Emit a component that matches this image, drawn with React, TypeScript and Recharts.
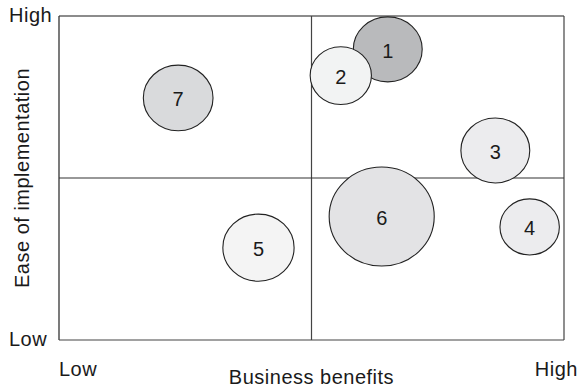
import { ScatterChart, Scatter, XAxis, YAxis, ZAxis, ReferenceLine, Label } from 'recharts';

// bubble ids, positions (0-10 scale on both axes) and relative area
const ids = ['1', '2', '3', '4', '5', '6', '7'];
const benefits = [6.51, 5.58, 8.64, 9.32, 3.95, 6.39, 2.36];
const ease = [8.97, 8.16, 5.85, 3.49, 2.85, 3.81, 7.47];
const sizes = [43, 34, 43, 32, 46, 100, 44];
const fills = ['#b9babc', '#f2f3f3', '#ececee', '#ececee', '#f4f4f4', '#e3e3e5', '#d9dadc'];

const xTicks = [0, 10];
const yTicks = [0, 10];
const tickText: Record<number, string> = { 0: 'Low', 10: 'High' };

const data = ids.map((id, i) => ({ id, x: benefits[i], y: ease[i], z: sizes[i], fill: fills[i] }));

const FONT = '"Liberation Sans", Arial, Helvetica, sans-serif';

const Bubble = (props: any) => {
  const { cx, cy, payload } = props;
  const r = props.size != null ? Math.sqrt(props.size / Math.PI) : props.width / 2;
  return (
    <g>
      <ellipse cx={cx} cy={cy} rx={r * 1.03} ry={r / 1.03} fill={payload.fill} stroke="#222" strokeWidth={1.1} />
      <text x={cx} y={cy + 8.5} textAnchor="middle" fontFamily={FONT} fontSize={20} fill="#1a1a1a">
        {payload.id}
      </text>
    </g>
  );
};

const XTick = (props: any) => {
  const { x, y, payload } = props;
  const v = payload.value;
  return (
    <text
      x={v === 0 ? x : x + 14}
      y={y + 28}
      textAnchor={v === 0 ? 'start' : 'end'}
      fontFamily={FONT}
      fontSize={20}
      letterSpacing={0.5}
      fill="#1a1a1a"
    >
      {tickText[v]}
    </text>
  );
};

const YTick = (props: any) => {
  const { y, payload } = props;
  return (
    <text x={9} y={y + 6} textAnchor="start" fontFamily={FONT} fontSize={20} letterSpacing={0.5} fill="#1a1a1a">
      {tickText[payload.value]}
    </text>
  );
};

export default function App() {
  return (
    <div style={{ position: 'absolute', left: 0, top: 0, background: '#fff' }}>
      <ScatterChart width={581} height={388} margin={{ top: 16, right: 17, bottom: 0, left: 0 }}>
        <XAxis
          type="number"
          dataKey="x"
          domain={[0, 10]}
          ticks={xTicks}
          height={48}
          axisLine={false}
          tickLine={false}
          tick={<XTick />}
          interval={0}
        >
          <Label
            content={(p: any) => {
              const vb = p.viewBox;
              return (
                <text
                  x={vb.x + vb.width / 2}
                  y={vb.y + 44}
                  textAnchor="middle"
                  fontFamily={FONT}
                  fontSize={20}
                  letterSpacing={0.5}
                  fill="#1a1a1a"
                >
                  Business benefits
                </text>
              );
            }}
          />
        </XAxis>
        <YAxis
          type="number"
          dataKey="y"
          domain={[0, 10]}
          ticks={yTicks}
          width={59}
          axisLine={false}
          tickLine={false}
          tick={<YTick />}
          interval={0}
        >
          <Label
            content={(p: any) => {
              const vb = p.viewBox;
              const lx = vb.x + 29;
              const ly = vb.y + vb.height / 2;
              return (
                <text
                  x={lx}
                  y={ly}
                  transform={`rotate(-90, ${lx}, ${ly})`}
                  textAnchor="middle"
                  fontFamily={FONT}
                  fontSize={20}
                  letterSpacing={0.5}
                  fill="#1a1a1a"
                >
                  Ease of implementation
                </text>
              );
            }}
          />
        </YAxis>
        <ZAxis type="number" dataKey="z" domain={[0, 100]} range={[0, 8171]} />
        <ReferenceLine y={10} stroke="#666" strokeWidth={1.3} />
        <ReferenceLine x={0} stroke="#333" strokeWidth={1.3} />
        <ReferenceLine x={10} stroke="#444" strokeWidth={1.2} />
        <ReferenceLine y={0} stroke="#444" strokeWidth={1.2} />
        <ReferenceLine x={5} stroke="#444" strokeWidth={1.2} />
        <ReferenceLine y={5} stroke="#333" strokeWidth={1.2} />
        <Scatter data={data} shape={<Bubble />} isAnimationActive={false} />
      </ScatterChart>
    </div>
  );
}
